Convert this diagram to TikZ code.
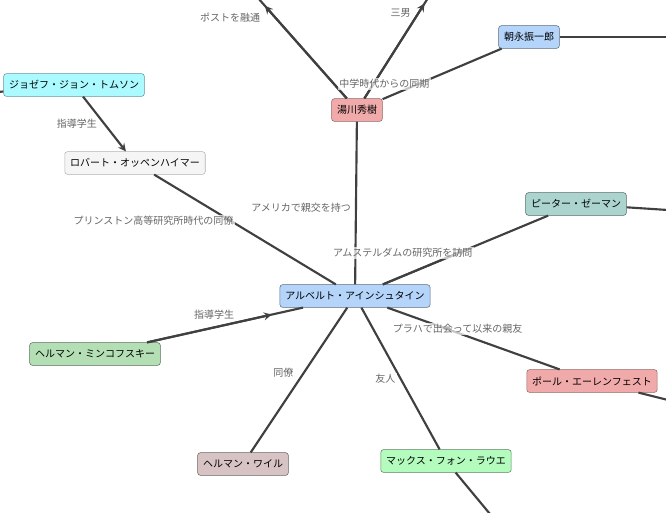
\documentclass[tikz,border=0pt]{standalone}
\usepackage{fontspec}
\setmainfont{Noto Sans CJK JP}
\usetikzlibrary{arrows,calc}
\definecolor{pblue}{RGB}{180,212,250}
\definecolor{ppink}{RGB}{240,170,170}
\definecolor{pcyan}{RGB}{170,250,255}
\definecolor{pteal}{RGB}{170,212,205}
\definecolor{pgreen}{RGB}{180,222,180}
\definecolor{plgreen}{RGB}{180,252,190}
\definecolor{pmauve}{RGB}{215,195,195}
\begin{document}
\begin{tikzpicture}[x=0.75pt,y=-0.75pt,
	person/.style={draw,rounded corners=2pt,font=\fontsize{7.5}{9}\selectfont,inner sep=4pt,minimum height=17pt},
	link/.style={draw=black!75,line width=1.6pt},
	arr/.style={link,->,>=stealth},
	lbl/.style={font=\fontsize{7.5}{9}\selectfont,text=black!60,fill=white,fill opacity=0.7,text opacity=1,inner sep=1pt}]
	\useasboundingbox (0,0) rectangle (666,512);
	
	\node[person,fill=ppink,draw=ppink!60!black] (yuk) at (357,110) {湯川秀樹};
	\node[person,fill=pblue,draw=pblue!50!black] (tom) at (529,37) {朝永振一郎};
	\node[person,fill=pcyan,draw=pcyan!60!black] (thom) at (74,85) {ジョゼフ・ジョン・トムソン};
	\node[person,fill=black!4,draw=black!30] (opp) at (135,163) {ロバート・オッペンハイマー};
	\node[person,fill=pteal,draw=pteal!50!black] (zee) at (576,204) {ピーター・ゼーマン};
	\node[person,fill=pblue,draw=pblue!50!black] (ein) at (355,296) {アルベルト・アインシュタイン};
	\node[person,fill=pgreen,draw=pgreen!50!black] (min) at (95,354) {ヘルマン・ミンコフスキー};
	\node[person,fill=ppink,draw=ppink!60!black] (ehr) at (592,381) {ポール・エーレンフェスト};
	\node[person,fill=pmauve,draw=pmauve!50!black] (wey) at (243,464) {ヘルマン・ワイル};
	\node[person,fill=plgreen,draw=plgreen!50!black] (lau) at (446,461) {マックス・フォン・ラウエ};
	
	\coordinate (t1) at (258,-2);
	\coordinate (t2) at (428,-2);
	\coordinate (r1) at (668,37);
	\coordinate (l1) at (-2,92);
	\coordinate (r2) at (668,210);
	\coordinate (r3) at (668,400);
	\coordinate (b1) at (490,514);
	
	% arrow heads sit part way along
	\draw[arr] (yuk) -- ($(yuk)!0.93!(t1)$);
	\draw[arr] (yuk) -- ($(yuk)!0.95!(t2)$);
	\draw[arr] (ein) -- ($(ein)!0.5!(zee)$);
	\draw[arr] (min) -- ($(min)!0.68!(ein)$);
	
	\path[link] (yuk) -- (t1) node[lbl,pos=0.8,left=10pt] {ポストを融通};
	\path[link] (yuk) -- (t2) node[lbl,pos=0.85,left=4pt] {三男};
	\path[link] (yuk) -- node[lbl,pos=0.3,left=-10pt] {中学時代からの同期} (tom);
	\path[link] (tom) -- (r1);
	\path[link] (thom) -- (l1);
	\path[arr] (thom) -- node[lbl,left=4pt] {指導学生} (opp);
	\path[link] (opp) -- node[lbl,pos=0.42,left=-4pt] {プリンストン高等研究所時代の同僚} (ein);
	\path[link] (ein) -- node[lbl,pos=0.47,left=2pt] {アメリカで親交を持つ} (yuk);
	\path[link] (ein) -- node[lbl,pos=0.12,above=12pt] {アムステルダムの研究所を訪問} (zee);
	\path[link] (zee) -- (r2);
	\path[link] (min) -- node[lbl,pos=0.43,above=4pt] {指導学生} (ein);
	\path[link] (ein) -- node[lbl,pos=0.08,below=12pt,right=-8pt] {プラハで出会って以来の親友} (ehr);
	\path[link] (ehr) -- (r3);
	\path[link] (ein) -- node[lbl,pos=0.45,left=6pt] {同僚} (wey);
	\path[link] (ein) -- node[lbl,pos=0.5,left=2pt] {友人} (lau);
	\path[link] (lau) -- (b1);
\end{tikzpicture}
\end{document}
